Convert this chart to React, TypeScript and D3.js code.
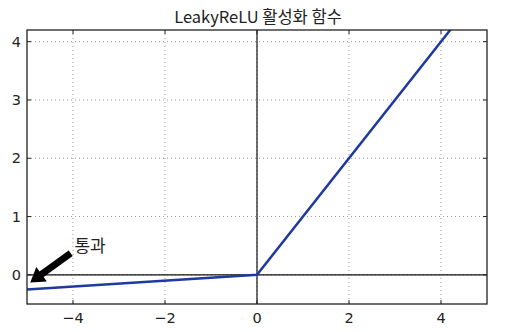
import React from "react";
import * as d3 from "d3";

const xTicks = [-4, -2, 0, 2, 4];
const yTicks = [0, 1, 2, 3, 4];
const xDomain = [-5, 5];
const yDomain = [-0.5, 4.2];
const alpha = 0.05;
const curveX = [-5, 0, 5];
const curveY = curveX.map((x) => (x < 0 ? alpha * x : x));
const titleText = "LeakyReLU 활성화 함수";
const annotText = "통과";
const annotTip = [-4.93, -0.13];
const annotTail = [-4.05, 0.37];
const annotTextPos = [-3.97, 0.4];

export default function App() {
  const W = 510, H = 332;
  const L = 27, R = 487, T = 30, B = 304;
  const x = d3.scaleLinear().domain(xDomain).range([L, R]);
  const y = d3.scaleLinear().domain(yDomain).range([B, T]);
  const line = d3.line<number>().x((_, i) => x(curveX[i])).y((d) => y(d));
  const font = "'DejaVu Sans', sans-serif";

  const tx = x(annotTip[0]), ty = y(annotTip[1]);
  const sx = x(annotTail[0]), sy = y(annotTail[1]);
  const dx = tx - sx, dy = ty - sy;
  const len = Math.hypot(dx, dy);
  const ux = dx / len, uy = dy / len;
  const px = -uy, py = ux;
  const headLen = 14, headW = 9, shaftW = 3.5;
  const bx = tx - ux * headLen, by = ty - uy * headLen;
  const pts = [
    [sx + px * shaftW, sy + py * shaftW],
    [bx + px * shaftW, by + py * shaftW],
    [bx + px * headW, by + py * headW],
    [tx, ty],
    [bx - px * headW, by - py * headW],
    [bx - px * shaftW, by - py * shaftW],
    [sx - px * shaftW, sy - py * shaftW],
  ];

  return (
    <svg width={W} height={H} style={{ position: "absolute", left: 0, top: 0, background: "#fff" }}>
      <defs>
        <clipPath id="plot">
          <rect x={L} y={T} width={R - L} height={B - T} />
        </clipPath>
      </defs>
      <text x={258} y={23} textAnchor="middle" fontFamily="'Noto Sans CJK KR', 'Noto Sans', sans-serif" fontSize={16.5} fill="#222">
        {titleText}
      </text>
      {xTicks.map((t) => (
        <line key={"gx" + t} x1={x(t)} x2={x(t)} y1={T} y2={B} stroke="#999" strokeWidth={1} strokeDasharray="1,3" />
      ))}
      {yTicks.map((t) => (
        <line key={"gy" + t} x1={L} x2={R} y1={y(t)} y2={y(t)} stroke="#999" strokeWidth={1} strokeDasharray="1,3" />
      ))}
      <line x1={L} x2={R} y1={y(0)} y2={y(0)} stroke="#111" strokeWidth={1.2} />
      <line x1={x(0)} x2={x(0)} y1={T} y2={B} stroke="#111" strokeWidth={1.2} />
      <g clipPath="url(#plot)">
        <path d={line(curveY) || ""} fill="none" stroke="#1f3a9e" strokeWidth={2.5} />
      </g>
      <rect x={L} y={T} width={R - L} height={B - T} fill="none" stroke="#222" strokeWidth={1.3} />
      {xTicks.map((t) => (
        <g key={"tx" + t}>
          <line x1={x(t)} x2={x(t)} y1={B} y2={B - 4} stroke="#222" />
          <line x1={x(t)} x2={x(t)} y1={T} y2={T + 4} stroke="#222" />
          <text x={x(t)} y={B + 19} textAnchor="middle" fontFamily={font} fontSize={14.5} fill="#222">
            {t < 0 ? "\u2212" + Math.abs(t) : String(t)}
          </text>
        </g>
      ))}
      {yTicks.map((t) => (
        <g key={"ty" + t}>
          <line x1={L} x2={L + 4} y1={y(t)} y2={y(t)} stroke="#222" />
          <line x1={R} x2={R - 4} y1={y(t)} y2={y(t)} stroke="#222" />
          <text x={L - 6} y={y(t) + 5} textAnchor="end" fontFamily={font} fontSize={14.5} fill="#222">
            {String(t)}
          </text>
        </g>
      ))}
      <polygon points={pts.map((p) => p.join(",")).join(" ")} fill="#000" />
      <text x={x(annotTextPos[0])} y={y(annotTextPos[1])} fontFamily="'Noto Sans CJK KR', sans-serif" fontSize={17} fill="#222">
        {annotText}
      </text>
    </svg>
  );
}
